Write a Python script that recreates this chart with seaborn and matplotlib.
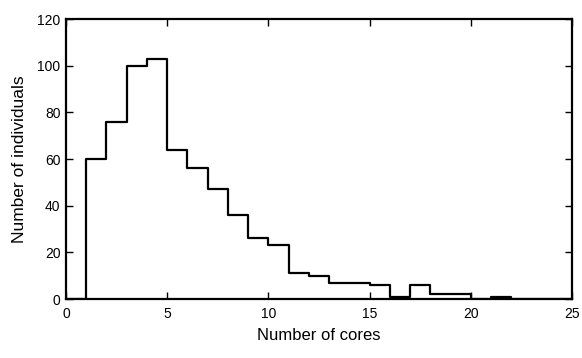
import numpy as np
import pandas as pd
import matplotlib
matplotlib.use("Agg")
import matplotlib.pyplot as plt
import seaborn as sns

# bin left edges (cores) and counts per unit-wide bin
cores = [0, 1, 2, 3, 4, 5, 6, 7, 8, 9, 10, 11, 12, 13, 14, 15, 16, 17, 18, 19, 20, 21, 22, 23, 24]
counts = [0, 60, 76, 100, 103, 64, 56, 47, 36, 26, 23, 11, 10, 7, 7, 6, 1, 6, 2, 2, 0, 1, 0, 0, 0]
xticks = [0, 5, 10, 15, 20, 25]
yticks = [0, 20, 40, 60, 80, 100, 120]

sns.set_style("ticks")
plt.rcParams['font.family'] = ['Liberation Sans', 'DejaVu Sans']
plt.rcParams['text.color'] = 'black'
plt.rcParams['axes.labelcolor'] = 'black'

df = pd.DataFrame({"cores": np.array(cores) + 0.5, "count": counts})

fig = plt.figure(figsize=(5.82, 3.58), dpi=100)
ax = fig.add_axes([0.1134, 0.1648, 0.8694, 0.7821])

sns.histplot(data=df, x="cores", weights="count", binwidth=1, binrange=(0, 25),
             element="step", fill=False, color="black", linewidth=1.6, ax=ax)

ax.set_xlim(0, 25)
ax.set_ylim(0, 120)
ax.set_xticks(xticks)
ax.set_yticks(yticks)
ax.set_xlabel("Number of cores", fontsize=12, color="black", labelpad=5)
ax.set_ylabel("Number of individuals", fontsize=12.5, color="black", labelpad=7)
ax.tick_params(direction="in", top=True, right=True, length=5, width=1,
               labelsize=10, colors="black")
ax.tick_params(axis="x", pad=6)
ax.tick_params(axis="y", pad=4)
for s in ax.spines.values():
    s.set_visible(True)
    s.set_linewidth(1.6)
    s.set_color("black")

fig.savefig("out.png", dpi=100)
